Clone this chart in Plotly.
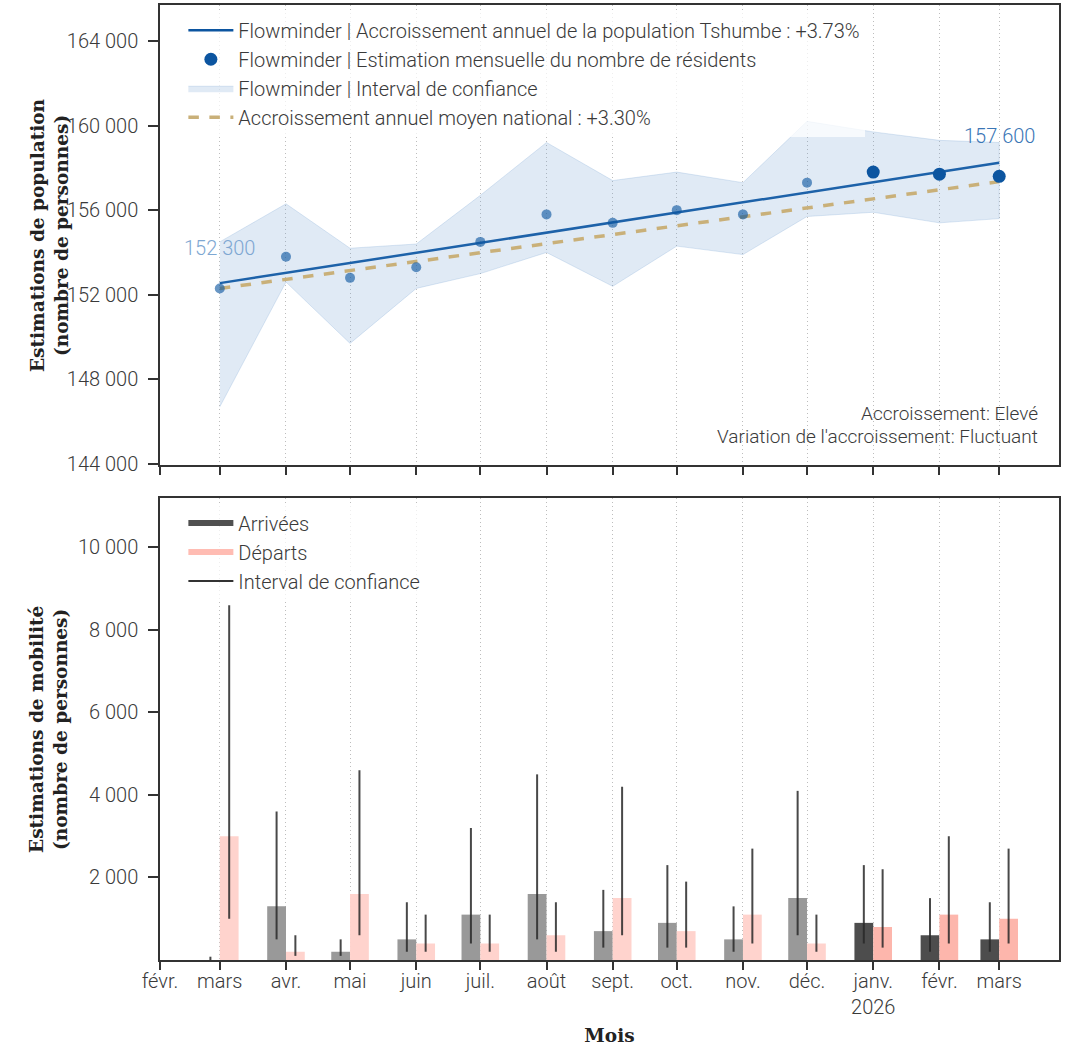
import plotly.graph_objects as go

# ---------------- data ----------------
months = ["2025-03-01", "2025-04-01", "2025-05-01", "2025-06-01", "2025-07-01",
          "2025-08-01", "2025-09-01", "2025-10-01", "2025-11-01", "2025-12-01",
          "2026-01-01", "2026-02-01", "2026-03-01"]
tick_dates = ["2025-02-01"] + months
tick_labels = ["févr.", "mars", "avr.", "mai", "juin", "juil.", "août", "sept.",
               "oct.", "nov.", "déc.", "janv.<br>2026", "févr.", "mars"]

pop_est = [152300, 153800, 152800, 153300, 154500, 155800, 155400,
           156000, 155800, 157300, 157800, 157700, 157600]
pop_upper = [154500, 156300, 154200, 154400, 156700, 159200, 157400,
             157800, 157300, 160200, 159700, 159300, 159200]
pop_lower = [146700, 152600, 149700, 152300, 153000, 154000, 152400,
             154300, 153900, 155700, 155900, 155400, 155600]

trend_dates = ["2025-03-01", "2026-03-01"]
trend_local = [152550, 158240]
trend_national = [152300, 157350]

arrivals = [0, 1300, 200, 500, 1100, 1600, 700, 900, 500, 1500, 900, 600, 500]
arr_lo = [0, 500, 100, 200, 400, 500, 300, 300, 200, 600, 400, 200, 200]
arr_hi = [80, 3600, 500, 1400, 3200, 4500, 1700, 2300, 1300, 4100, 2300, 1500, 1400]

departures = [3000, 200, 1600, 400, 400, 600, 1500, 700, 1100, 400, 800, 1100, 1000]
dep_lo = [1000, 100, 600, 200, 200, 200, 600, 300, 400, 200, 300, 400, 400]
dep_hi = [8600, 600, 4600, 1100, 1100, 1400, 4200, 1900, 2700, 1100, 2200, 3000, 2700]

n_recent = 3

# ---------------- styles ----------------
BLUE = "#0c55a0"
BLUE_OLD = "rgba(12,85,160,0.62)"
TAN = "#c9b079"
TXT = "#3a3a3a"
FONT = "Roboto"
SERIF = "DejaVu Serif"
FS = 20
DAY_MS = 86400000
BW = 8.8 * DAY_MS

n = len(months)
old_idx = list(range(n - n_recent))
new_idx = list(range(n - n_recent, n))

fig = go.Figure()

# ---------- top panel ----------
fig.add_trace(go.Scatter(
    x=trend_dates, y=trend_local, mode="lines",
    line=dict(color=BLUE, width=2.5),
    name="Flowminder | Accroissement annuel de la population Tshumbe : +3.73%",
    legend="legend", legendrank=1, xaxis="x", yaxis="y"))

fig.add_trace(go.Scatter(
    x=months + months[::-1], y=pop_upper + pop_lower[::-1],
    fill="toself", fillcolor="rgba(100,150,205,0.2)",
    line=dict(color="rgba(100,150,205,0.22)", width=1),
    mode="lines", hoverinfo="skip",
    name="Flowminder | Interval de confiance",
    legend="legend", legendrank=3, xaxis="x", yaxis="y"))

fig.add_trace(go.Scatter(
    x=trend_dates, y=trend_national, mode="lines",
    line=dict(color=TAN, width=3.5, dash="dash"),
    name="Accroissement annuel moyen national : +3.30%",
    legend="legend", legendrank=4, xaxis="x", yaxis="y"))

fig.add_trace(go.Scatter(
    x=[months[i] for i in old_idx], y=[pop_est[i] for i in old_idx],
    mode="markers", marker=dict(color=BLUE_OLD, size=10),
    showlegend=False, xaxis="x", yaxis="y"))

fig.add_trace(go.Scatter(
    x=[months[i] for i in new_idx], y=[pop_est[i] for i in new_idx],
    mode="markers", marker=dict(color=BLUE, size=13),
    name="Flowminder | Estimation mensuelle du nombre de résidents",
    legend="legend", legendrank=2, xaxis="x", yaxis="y"))


def fmt(v):
    return f"{v:,}".replace(",", " ")


fig.add_annotation(x=months[0], y=pop_est[0], xref="x", yref="y",
                   text=fmt(pop_est[0]), showarrow=False, yshift=40,
                   font=dict(family=FONT, size=FS, color="#7ea7d2", weight=300))
fig.add_annotation(x=months[-1], y=pop_est[-1], xref="x", yref="y",
                   text=fmt(pop_est[-1]), showarrow=False, yshift=40,
                   font=dict(family=FONT, size=FS, color="#3a76b6", weight=300))

fig.add_annotation(x=0.979, y=0.113, xref="x domain", yref="y domain",
                   text="Accroissement: Elevé", showarrow=False,
                   xanchor="right", yanchor="middle",
                   font=dict(family=FONT, size=FS - 1, color=TXT, weight=300))
fig.add_annotation(x=0.979, y=0.061, xref="x domain", yref="y domain",
                   text="Variation de l'accroissement: Fluctuant", showarrow=False,
                   xanchor="right", yanchor="middle",
                   font=dict(family=FONT, size=FS - 1, color=TXT, weight=300))

# ---------- bottom panel ----------
arr_colors = ["#999999"] * (n - n_recent) + ["#4d4d4d"] * n_recent
dep_colors = ["#ffd3cd"] * (n - n_recent) + ["#fdb6ac"] * n_recent
ERR = dict(type="data", symmetric=False, color="rgba(40,40,40,0.85)",
           thickness=2, width=0)

fig.add_trace(go.Bar(
    x=months, y=arrivals, width=[BW] * n, offset=[-BW] * n,
    marker=dict(color=arr_colors, line=dict(width=0)),
    error_y=dict(ERR, array=[h - v for h, v in zip(arr_hi, arrivals)],
                 arrayminus=[v - l for v, l in zip(arrivals, arr_lo)]),
    name="Arrivées", showlegend=False, xaxis="x2", yaxis="y2"))

fig.add_trace(go.Bar(
    x=months, y=departures, width=[BW] * n, offset=[0] * n,
    marker=dict(color=dep_colors, line=dict(width=0)),
    error_y=dict(ERR, array=[h - v for h, v in zip(dep_hi, departures)],
                 arrayminus=[v - l for v, l in zip(departures, dep_lo)]),
    name="Départs", showlegend=False, xaxis="x2", yaxis="y2"))

# legend-only entries for the bottom panel (wide filled swatches)
fig.add_trace(go.Scatter(x=[None], y=[None], mode="none", fill="toself",
                         fillcolor="#505050",
                         name="Arrivées", legend="legend2", legendrank=1,
                         xaxis="x2", yaxis="y2"))
fig.add_trace(go.Scatter(x=[None], y=[None], mode="none", fill="toself",
                         fillcolor="#ffbcb3",
                         name="Départs", legend="legend2", legendrank=2,
                         xaxis="x2", yaxis="y2"))
fig.add_trace(go.Scatter(x=[None], y=[None], mode="lines",
                         line=dict(color="#333333", width=2),
                         name="Interval de confiance", legend="legend2",
                         legendrank=3, xaxis="x2", yaxis="y2"))

# ---------------- layout ----------------
x_range = ["2025-02-01", "2026-03-29"]
axis_common = dict(showline=True, linecolor="#333333", linewidth=1.5, mirror=True,
                   ticks="outside", ticklen=10, tickcolor="#333333", tickwidth=1.5,
                   zeroline=False, automargin=False,
                   tickfont=dict(family=FONT, size=FS, color=TXT, weight=300))
xgrid = dict(showgrid=True, gridcolor="#bdbdbd", gridwidth=1, griddash="1px,3px")
title_font = dict(family=SERIF, size=18.5, color="#222222", weight="bold")

top_dom = [0.5183, 1.0]
bot_dom = [0.0, 0.4838]

# y-axis titles as rotated annotations (placed closer to tick labels)
fig.add_annotation(text="Estimations de population<br>(nombre de personnes)",
                   xref="paper", yref="paper", x=-0.1235,
                   y=(top_dom[0] + top_dom[1]) / 2, textangle=-90,
                   showarrow=False, xanchor="center", yanchor="middle",
                   font=title_font)
fig.add_annotation(text="Estimations de mobilité<br>(nombre de personnes)",
                   xref="paper", yref="paper", x=-0.1235,
                   y=(bot_dom[0] + bot_dom[1]) / 2, textangle=-90,
                   showarrow=False, xanchor="center", yanchor="middle",
                   font=title_font)

fig.update_layout(
    width=1071, height=1046,
    margin=dict(l=160, r=12, t=5, b=86),
    paper_bgcolor="white", plot_bgcolor="white",
    separators=". ",
    barmode="overlay",
    font=dict(family=FONT, color=TXT),
    xaxis=dict(axis_common, **xgrid, type="date", range=x_range, domain=[0, 1],
               anchor="y", tickvals=tick_dates, ticktext=tick_labels,
               showticklabels=False, ticklen=8),
    yaxis=dict(axis_common, domain=top_dom, anchor="x", range=[143950, 165700],
               tickvals=list(range(144000, 164001, 4000)), tickformat=",d",
               showgrid=False, ticklabelstandoff=6),
    xaxis2=dict(axis_common, **xgrid, type="date", range=x_range, domain=[0, 1],
                anchor="y2", tickvals=tick_dates, ticktext=tick_labels,
                layer="above traces", ticklen=8, ticklabelstandoff=-6,
                title=dict(text="Mois", font=title_font, standoff=16)),
    yaxis2=dict(axis_common, domain=bot_dom, anchor="x2", range=[0, 11200],
                tickvals=list(range(2000, 10001, 2000)), tickformat=",d",
                showgrid=False, ticklabelstandoff=6),
    legend=dict(x=0.026, y=0.994, xanchor="left", yanchor="top",
                bgcolor="rgba(255,255,255,0.75)", borderwidth=0, itemwidth=45,
                font=dict(family=FONT, size=FS, color=TXT, weight=300),
                traceorder="normal"),
    legend2=dict(x=0.026, y=0.478, xanchor="left", yanchor="top",
                 bgcolor="rgba(255,255,255,0.75)", borderwidth=0, itemwidth=45,
                 font=dict(family=FONT, size=FS, color=TXT, weight=300),
                 traceorder="normal"),
)

fig.write_html("out.html",
               config={"displayModeBar": False},
               post_script="document.body.style.margin='0';"
                           "document.body.style.overflow='hidden';")
